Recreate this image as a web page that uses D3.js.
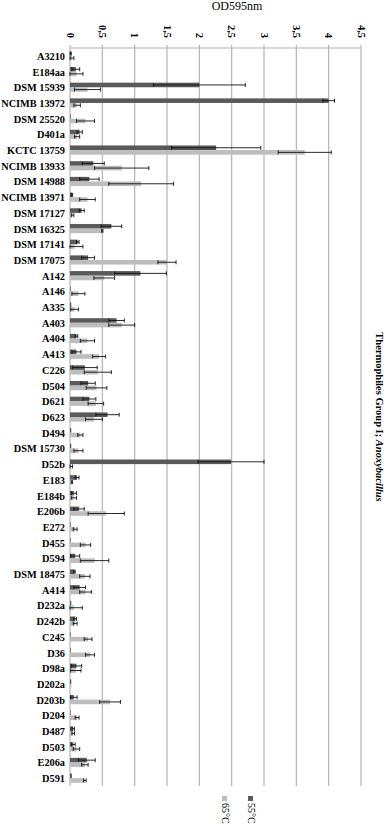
<!DOCTYPE html>
<html>
<head>
<meta charset="utf-8">
<script src="https://cdn.jsdelivr.net/npm/d3@7"></script>
<style>
  body { margin: 0; background: #fff; }
  text { font-family: "Liberation Serif", "Times New Roman", serif; }
</style>
</head>
<body>
<div id="chart"></div>
<script>
// strains, top to bottom
const strains = [
  "A3210", "E184aa", "DSM 15939", "NCIMB 13972", "DSM 25520", "D401a",
  "KCTC 13759", "NCIMB 13933", "DSM 14988", "NCIMB 13971", "DSM 17127",
  "DSM 16325", "DSM 17141", "DSM 17075", "A142", "A146", "A335", "A403",
  "A404", "A413", "C226", "D504", "D621", "D623", "D494", "DSM 15730",
  "D52b", "E183", "E184b", "E206b", "E272", "D455", "D594", "DSM 18475",
  "A414", "D232a", "D242b", "C245", "D36", "D98a", "D202a", "D203b",
  "D204", "D487", "D503", "E206a", "D591"
];

// OD595nm at 55°C (dark) and its error
const od55 = [
  0.01, 0.09, 2.00, 4.00, 0.01, 0.15, 2.26, 0.36, 0.30, 0.03, 0.18,
  0.64, 0.12, 0.28, 1.09, 0.01, 0.02, 0.72, 0.10, 0.10, 0.23, 0.28,
  0.30, 0.58, 0.02, 0.02, 2.49, 0.11, 0.06, 0.14, 0.01, 0.01, 0.08,
  0.07, 0.15, 0.02, 0.08, 0.01, 0.01, 0.10, 0.02, 0.06, 0.01, 0.05,
  0.05, 0.26, 0.03
];
const err55 = [
  0.01, 0.06, 0.71, 0.09, 0.00, 0.04, 0.69, 0.17, 0.15, 0.01, 0.04,
  0.16, 0.02, 0.10, 0.40, 0.00, 0.00, 0.12, 0.02, 0.07, 0.19, 0.11,
  0.10, 0.18, 0.00, 0.00, 0.51, 0.03, 0.04, 0.08, 0.00, 0.00, 0.07,
  0.01, 0.09, 0.00, 0.02, 0.00, 0.00, 0.08, 0.00, 0.05, 0.00, 0.02,
  0.03, 0.13, 0.00
];

// OD595nm at 65°C (light) and its error
const od65 = [
  0.03, 0.10, 0.27, 0.11, 0.24, 0.11, 3.63, 0.80, 1.10, 0.27, 0.04,
  0.50, 0.07, 1.50, 0.53, 0.13, 0.07, 0.80, 0.27, 0.45, 0.43, 0.41,
  0.40, 0.37, 0.16, 0.13, 0.02, 0.03, 0.06, 0.56, 0.08, 0.24, 0.38,
  0.23, 0.24, 0.06, 0.08, 0.28, 0.31, 0.09, 0.02, 0.62, 0.11, 0.05,
  0.10, 0.23, 0.23
];
const err65 = [
  0.03, 0.10, 0.20, 0.05, 0.14, 0.04, 0.41, 0.42, 0.50, 0.12, 0.02,
  0.01, 0.13, 0.14, 0.16, 0.10, 0.06, 0.20, 0.11, 0.10, 0.21, 0.16,
  0.12, 0.13, 0.04, 0.07, 0.02, 0.01, 0.04, 0.28, 0.03, 0.08, 0.22,
  0.08, 0.09, 0.13, 0.03, 0.06, 0.07, 0.08, 0.00, 0.16, 0.03, 0.02,
  0.05, 0.05, 0.02
];

const xTicks = [0, 0.5, 1, 1.5, 2, 2.5, 3, 3.5, 4, 4.5];
const seriesNames = ["55°C", "65°C"];
const seriesColors = ["#5a5a5a", "#bdbdbd"];

const width = 387, height = 827;
const margin = { top: 48, bottom: 41, left: 70, right: 26 };

const svg = d3.select("#chart").append("svg")
  .attr("width", width)
  .attr("height", height);

// scales
const x = d3.scaleLinear()
  .domain([0, 4.5])
  .range([margin.left, width - margin.right]);

const y = d3.scaleBand()
  .domain(strains)
  .range([margin.top, height - margin.bottom]);

const barH = 4.6;

// gridlines + top axis ticks
svg.append("g")
  .selectAll("line")
  .data(xTicks)
  .join("line")
  .attr("x1", d => x(d)).attr("x2", d => x(d))
  .attr("y1", margin.top - 3)
  .attr("y2", height - margin.bottom)
  .attr("stroke", "#b4b4b4")
  .attr("stroke-width", 1.2);

svg.append("line")
  .attr("x1", x(0)).attr("x2", x(4.5))
  .attr("y1", margin.top).attr("y2", margin.top)
  .attr("stroke", "#b4b4b4")
  .attr("stroke-width", 1.2);

// tick labels, rotated
svg.append("g")
  .selectAll("text")
  .data(xTicks)
  .join("text")
  .attr("transform", d => `translate(${x(d) - 3.5},38) rotate(90)`)
  .attr("text-anchor", "end")
  .style("font-size", "10.5px")
  .style("font-weight", "bold")
  .text(d => String(d).replace(".", ","));

// title
svg.append("text")
  .attr("x", 237)
  .attr("y", 10)
  .attr("text-anchor", "middle")
  .style("font-size", "12px")
  .text("OD595nm");

// category labels
svg.append("g")
  .selectAll("text")
  .data(strains)
  .join("text")
  .attr("x", margin.left - 5)
  .attr("y", d => y(d) + y.bandwidth() / 2 + 4)
  .attr("text-anchor", "end")
  .style("font-size", "10.3px")
  .style("font-weight", "bold")
  .text(d => d);

// bars: 55°C on top, 65°C below
const series = [
  { vals: od55, errs: err55, off: -barH },
  { vals: od65, errs: err65, off: 0 }
];

series.forEach((s, si) => {
  const g = svg.append("g");
  g.selectAll("rect")
    .data(strains)
    .join("rect")
    .attr("x", x(0))
    .attr("y", d => y(d) + y.bandwidth() / 2 + s.off)
    .attr("width", (d, i) => x(s.vals[i]) - x(0))
    .attr("height", barH)
    .attr("fill", seriesColors[si]);

  // error bars
  const eb = svg.append("g")
    .attr("stroke", "#111")
    .attr("stroke-width", 0.9);
  strains.forEach((d, i) => {
    if (s.errs[i] <= 0) return;
    const cy = y(d) + y.bandwidth() / 2 + s.off + barH / 2;
    const lo = Math.max(0, s.vals[i] - s.errs[i]);
    const hi = s.vals[i] + s.errs[i];
    eb.append("line")
      .attr("x1", x(lo)).attr("x2", x(hi))
      .attr("y1", cy).attr("y2", cy);
    [lo, hi].forEach(v => {
      eb.append("line")
        .attr("x1", x(v)).attr("x2", x(v))
        .attr("y1", cy - 2).attr("y2", cy + 2);
    });
  });
});

// right-side group label
const side = svg.append("text")
  .attr("transform", `translate(376, ${(margin.top + height - margin.bottom) / 2}) rotate(90)`)
  .attr("text-anchor", "middle")
  .style("font-size", "10.5px")
  .style("font-weight", "bold");
side.append("tspan").text("Thermophiles Group I; ");
side.append("tspan").style("font-style", "italic").text("Anoxybacillus");

// legend
const legend = svg.append("g")
  .selectAll("g")
  .data(seriesNames)
  .join("g")
  .attr("transform", (d, i) => `translate(${i === 0 ? 252 : 226}, 796) rotate(90)`);
legend.append("rect")
  .attr("x", 0).attr("y", -1)
  .attr("width", 5).attr("height", 5)
  .attr("fill", (d, i) => seriesColors[i]);
legend.append("text")
  .attr("x", 7).attr("y", 4.5)
  .style("font-size", "10px")
  .text(d => d);
</script>
</body>
</html>
